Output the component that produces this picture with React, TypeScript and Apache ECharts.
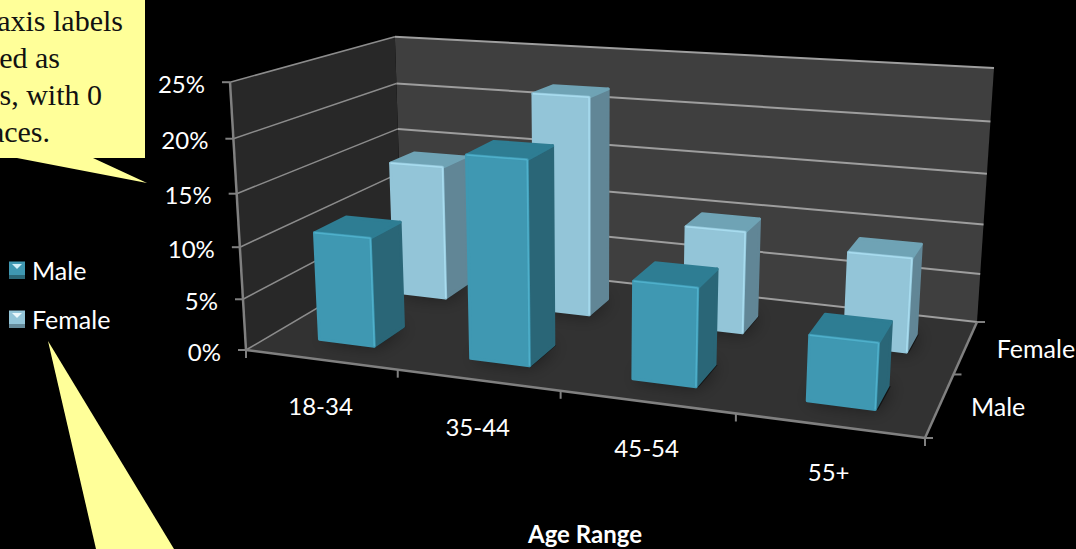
import React, { useEffect, useRef } from "react";
import * as echarts from "echarts";

const categories = ["18-34", "35-44", "45-54", "55+"];
const maleValues = [10.5, 18.9, 9, 5.9];
const femaleValues = [13.8, 21.7, 10, 9];
const percentTicks = [0, 5, 10, 15, 20, 25];
const depthLabels = ["Male", "Female"];
const calloutLines = ["axis labels", "ed as", "s, with 0", "aces."];

const W = 1076, H = 549;
const FONT = "Lato, 'Open Sans', sans-serif";
type Pt = [number, number];

function homography(p0: Pt, p1: Pt, p2: Pt, p3: Pt) {
  const dx1 = p1[0] - p2[0], dx2 = p3[0] - p2[0], sx = p0[0] - p1[0] + p2[0] - p3[0];
  const dy1 = p1[1] - p2[1], dy2 = p3[1] - p2[1], sy = p0[1] - p1[1] + p2[1] - p3[1];
  const den = dx1 * dy2 - dx2 * dy1;
  const g = (sx * dy2 - dx2 * sy) / den, h = (dx1 * sy - sx * dy1) / den;
  const a = p1[0] - p0[0] + g * p1[0], b = p3[0] - p0[0] + h * p3[0], c = p0[0];
  const d = p1[1] - p0[1] + g * p1[1], e = p3[1] - p0[1] + h * p3[1], f = p0[1];
  return (u: number, v: number): Pt => {
    const w = g * u + h * v + 1;
    return [(a * u + b * v + c) / w, (d * u + e * v + f) / w];
  };
}
// Perspective box: floor quad (front-left, front-right, back-right, back-left),
// the point the verticals converge to, and how far up each floor corner's vertical runs.
const floorAt = homography([246, 350], [925, 438], [977, 322], [402, 258]);
const VANISH: Pt = [590, 6109];
const REACH = { fl: 0.0465, fr: 0.0543, br: 0.0439, bl: 0.0378 };
const lift = (h: number) => h / (h + (1 - h) * 1.07);
const warpU = (u: number) => u / (u + (1 - u) * 1.04);
const P = (uRaw: number, v: number, h: number): Pt => {
  const u = warpU(uRaw);
  const a = floorAt(u, v);
  const reach = (REACH.fl * (1 - u) + REACH.fr * u) * (1 - v) + (REACH.bl * (1 - u) + REACH.br * u) * v;
  const t = reach * lift(h);
  return [a[0] + (a[0] - VANISH[0]) * t, a[1] + (a[1] - VANISH[1]) * t];
};
const poly = (points: Pt[], style: any) => ({ type: "polygon", shape: { points }, style });
const seg = (a: Pt, b: Pt, stroke: string, lineWidth: number) => ({
  type: "line",
  shape: { x1: a[0], y1: a[1], x2: b[0], y2: b[1] },
  style: { stroke, lineWidth, fill: null },
});
const txt = (text: string, x: number, y: number, align: string, size = 24, extra: any = {}) => ({
  type: "text",
  x, y,
  style: { text, fill: "#fff", font: `${size}px ${FONT}`, align, verticalAlign: "middle", ...extra },
});

const palette: Record<string, any> = {
  Male: { front: "#3f98b2", side: "#2a6677", top: "#2e7d93", hi: "#4fb0cb" },
  Female: { front: "#93c5d8", side: "#618696", top: "#6fa3b5", hi: "#a8dcef" },
};

function frameItem(_: any, api: any) {
  const kids: any[] = [];
  const back = poly([P(0, 1, 0), P(1, 1, 0), P(1, 1, 1), P(0, 1, 1)], { fill: "#3f3f3f" });
  const left = poly([P(0, 0, 0), P(0, 1, 0), P(0, 1, 1), P(0, 0, 1)], { fill: "#282828" });
  const floor = poly([P(0, 0, 0), P(1, 0, 0), P(1, 1, 0), P(0, 1, 0)], { fill: "#323232" });
  kids.push(back, left, floor);
  percentTicks.forEach((t) => {
    const y = api.coord([0, t])[1];
    const h = 1 - y / H;
    const a = P(0, 0, h), b = P(0, 1, h), c = P(1, 1, h);
    kids.push(seg(a, b, "#8c8c8c", 1.5), seg(b, c, "#9e9e9e", 2));
    kids.push(seg([a[0] - 8, a[1]], a, "#808080", 2));
    kids.push(txt(`${t}%`, a[0] - 25, a[1] + 1, "right"));
  });
  kids.push(seg(P(0, 0, 0), P(0, 0, 1), "#808080", 2.5));
  kids.push(seg(P(0, 0, 0), P(1, 0, 0), "#808080", 2.5));
  kids.push(seg(P(1, 0, 0), P(1, 1, 0), "#808080", 2.5));
  categories.forEach((c, i) => {
    const band = api.size([1, 0])[0] / W;
    const mid = api.coord([i, 0])[0] / W;
    const tk = P(mid - band / 2, 0, 0);
    kids.push(seg(tk, [tk[0], tk[1] + 8], "#808080", 2));
    const m = P(mid, 0, 0);
    kids.push(txt(c, m[0], m[1] + 46, "center"));
    if (i === categories.length - 1) {
      const e = P(1, 0, 0);
      kids.push(seg(e, [e[0], e[1] + 8], "#808080", 2));
    }
  });
  [0, 0.5, 1].forEach((v) => {
    const e = P(1, v, 0);
    kids.push(seg(e, [e[0] + 8, e[1]], "#808080", 2));
  });
  depthLabels.forEach((name, i) => {
    const e = P(1, 0.25 + i * 0.5, 0);
    kids.push(txt(name, e[0] + 31, e[1] + 1, "left", 25));
  });
  return { type: "group", children: kids };
}

const BAR_U = 0.37;
function barItem(vMid: number, barV: number, name: string) {
  return (_: any, api: any) => {
    const c = palette[name];
    const pos = api.coord([api.value(0), api.value(1)]);
    const band = api.size([1, 0])[0] / W;
    const mid = pos[0] / W, h = 1 - pos[1] / H;
    const u0 = mid - (band * BAR_U) / 2, u1 = mid + (band * BAR_U) / 2;
    const dv = (0.5 * barV) / 2;
    const v0 = vMid - dv, v1 = vMid + dv;
    const rnd = (fill: string) => ({ fill, stroke: fill, lineWidth: 3, lineJoin: "round" });
    return {
      type: "group",
      children: [
        poly([P(u0 + 0.003, v0, 0), P(u1 + 0.004, v0, 0), P(u1 + 0.004, v1, 0), P(u0 + 0.003, v1, 0)], {
          fill: "rgba(0,0,0,0.55)", shadowBlur: 18, shadowColor: "rgba(0,0,0,0.9)",
        }),
        poly([P(u1, v0, 0), P(u1, v1, 0), P(u1, v1, h), P(u1, v0, h)], rnd(c.side)),
        poly([P(u0, v0, h), P(u1, v0, h), P(u1, v1, h), P(u0, v1, h)], rnd(c.top)),
        poly([P(u0, v0, 0), P(u1, v0, 0), P(u1, v0, h), P(u0, v0, h)], rnd(c.front)),
        seg(P(u0, v0, h), P(u1, v0, h), c.hi, 1.5),
        seg(P(u1, v0, 0), P(u1, v0, h), c.hi, 1.5),
      ],
    };
  };
}
const barData = (vals: number[]) => vals.map((v, i) => [i, v]);

const serifLine = (text: string, right: number, y: number) => ({
  type: "text",
  x: right, y,
  style: { text, fill: "#111", font: "30px 'Liberation Serif', serif", align: "right", verticalAlign: "middle" },
});
const legendBevel = (x: number, y: number, light: string, dark: string) => [
  { type: "polygon", z: 20, shape: { points: [[x + 3, y + 1], [x + 13, y + 1], [x + 8, y + 6]] }, style: { fill: light } },
  { type: "rect", z: 20, shape: { x, y: y + 12, width: 16, height: 4 }, style: { fill: dark } },
];

export default function App() {
  const ref = useRef<HTMLDivElement>(null);
  useEffect(() => {
    const chart = echarts.init(ref.current!, undefined, { renderer: "svg" });
    chart.setOption({
      animation: false,
      backgroundColor: "#000",
      grid: { left: 0, right: 0, top: 0, bottom: 0 },
      xAxis: { type: "category", data: categories, show: false },
      yAxis: { type: "value", min: 0, max: 25, interval: 5, show: false },
      legend: {
        data: ["Male", "Female"],
        orient: "vertical",
        left: 9, top: 257,
        itemWidth: 16, itemHeight: 16, itemGap: 24,
        icon: "rect",
        textStyle: { color: "#fff", fontSize: 25, fontFamily: FONT, padding: [0, 0, 0, 2] },
        padding: 0,
        selectedMode: false,
      },
      series: [
        { type: "custom", name: "frame", renderItem: frameItem, data: [[0]], clip: false, silent: true, z: 1 },
        { type: "custom", name: "Female", renderItem: barItem(0.73, 0.34, "Female"), data: barData(femaleValues), clip: false, z: 2, itemStyle: { color: palette.Female.front }, encode: { x: 0, y: 1 } },
        { type: "custom", name: "Male", renderItem: barItem(0.25, 0.38, "Male"), data: barData(maleValues), clip: false, z: 3, itemStyle: { color: palette.Male.front }, encode: { x: 0, y: 1 } },
      ],
      graphic: [
        { type: "polygon", z: 10, shape: { points: [[0, 0], [145, 0], [145, 158], [93, 158], [147, 183], [17, 158], [0, 158]] }, style: { fill: "#ffff99" } },
        ...[123, 60, 102, 50].map((r, i) => ({ ...serifLine(calloutLines[i], r, 20 + i * 37), z: 11 })),
        { type: "polygon", z: 10, shape: { points: [[48, 341], [174, 549], [96, 549]] }, style: { fill: "#ffff99" } },
        { type: "text", z: 11, x: 585, y: 533, style: { text: "Age Range", fill: "#fff", font: `bold 24px ${FONT}`, align: "center", verticalAlign: "middle" } },
        ...legendBevel(9, 263, "#cfeef7", "#2b6878"),
        ...legendBevel(9, 312, "#eaf7fb", "#668b9b"),
      ],
    });
    return () => chart.dispose();
  }, []);
  return <div ref={ref} style={{ position: "fixed", left: 0, top: 0, width: W, height: H }} />;
}
